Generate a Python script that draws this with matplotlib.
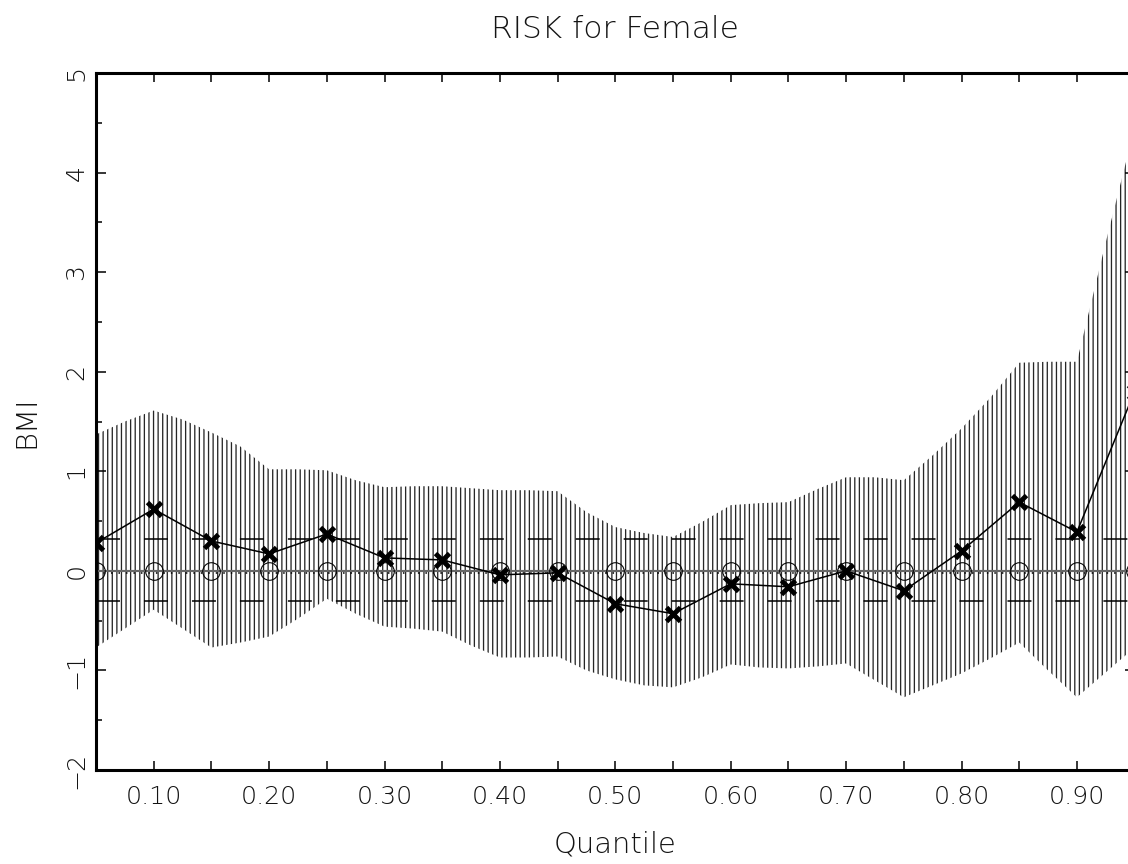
import numpy as np
import matplotlib
matplotlib.use("Agg")
import matplotlib.pyplot as plt

# Quantile levels of the regression estimates
quantiles = [0.05, 0.10, 0.15, 0.20, 0.25, 0.30, 0.35, 0.40, 0.45, 0.50,
             0.55, 0.60, 0.65, 0.70, 0.75, 0.80, 0.85, 0.90, 0.95]
# Quantile regression coefficient of RISK on BMI
estimate = [0.28, 0.62, 0.30, 0.17, 0.37, 0.13, 0.11, -0.04, -0.02, -0.33,
            -0.43, -0.13, -0.16, 0.00, -0.20, 0.20, 0.69, 0.39, 1.80]
# OLS reference markers at each quantile
ols_marker = [0.0] * len(quantiles)

# Confidence band, evaluated on a finer quantile grid
band_q = [0.050, 0.075, 0.100, 0.125, 0.150, 0.175, 0.200, 0.225, 0.250,
          0.275, 0.300, 0.325, 0.350, 0.375, 0.400, 0.425, 0.450, 0.475,
          0.500, 0.525, 0.550, 0.575, 0.600, 0.625, 0.650, 0.675, 0.700,
          0.725, 0.750, 0.775, 0.800, 0.825, 0.850, 0.875, 0.900, 0.925,
          0.950]
band_upper = [1.37, 1.50, 1.61, 1.52, 1.39, 1.25, 1.02, 1.02, 1.01,
              0.91, 0.84, 0.85, 0.85, 0.83, 0.81, 0.81, 0.80, 0.59,
              0.44, 0.38, 0.34, 0.49, 0.66, 0.68, 0.69, 0.82, 0.94,
              0.94, 0.91, 1.16, 1.43, 1.74, 2.09, 2.10, 2.10, 3.30,
              4.45]
band_lower = [-0.77, -0.58, -0.39, -0.58, -0.77, -0.72, -0.66, -0.48, -0.28,
              -0.43, -0.56, -0.58, -0.61, -0.75, -0.87, -0.87, -0.86, -1.00,
              -1.09, -1.15, -1.17, -1.07, -0.94, -0.97, -0.98, -0.96, -0.93,
              -1.10, -1.27, -1.15, -1.03, -0.88, -0.72, -1.00, -1.27, -1.02,
              -0.77]

# Reference lines: zero, OLS estimate and its confidence limits
zero_level = 0.0
ols_level = -0.02
ols_upper = 0.315
ols_lower = -0.30

xtick_vals = [0.10, 0.20, 0.30, 0.40, 0.50, 0.60, 0.70, 0.80, 0.90]
xtick_labels = ["0.10", "0.20", "0.30", "0.40", "0.50", "0.60", "0.70", "0.80", "0.90"]
xminor_vals = [0.05, 0.15, 0.25, 0.35, 0.45, 0.55, 0.65, 0.75, 0.85, 0.95]
ytick_vals = [-2, -1, 0, 1, 2, 3, 4, 5]
yminor_vals = [-1.5, -0.5, 0.5, 1.5, 2.5, 3.5, 4.5]

DPI = 110
plt.rcParams["font.family"] = ["DejaVu Sans"]
plt.rcParams["font.weight"] = "light"
plt.rcParams["axes.titleweight"] = "light"
plt.rcParams["axes.labelweight"] = "light"
plt.rcParams["hatch.linewidth"] = 0.85
text_color = "#141414"

fig = plt.figure(figsize=(1128 / DPI, 864 / DPI), dpi=DPI)
ax = fig.add_axes([96 / 1128, 1 - 770 / 864, (1134.6 - 96) / 1128, (770 - 73) / 864])

# Confidence band drawn as a vertical line pattern
ax.fill_between(band_q, band_lower, band_upper, facecolor="none",
                edgecolor="#262626", hatch="||||", linewidth=0, zorder=1)

ax.axhline(zero_level, color="#666666", lw=1.4, zorder=2)
ax.axhline(ols_level, color="black", lw=1.0, ls=(0, (1, 3.9)), zorder=2)
for lvl in (ols_upper, ols_lower):
    ax.axhline(lvl, color="black", lw=1.0, ls=(0, (15.7, 15.7)), zorder=2)

ax.plot(quantiles, ols_marker, ls="none", marker="o", ms=11.5, mfc="none",
        mec="black", mew=0.7, zorder=3)
ax.plot(quantiles, estimate, color="black", lw=1.0, marker="x", ms=9.5,
        mew=3.2, zorder=4)

ax.set_xlim(0.05, 0.95)
ax.set_ylim(-2, 5)

ax.set_xticks(xtick_vals)
ax.set_xticklabels(xtick_labels)
ax.set_xticks(xminor_vals, minor=True)
ax.set_yticks(ytick_vals)
ax.set_yticks(yminor_vals, minor=True)

ax.tick_params(axis="x", which="both", direction="in", length=5.9, width=1.0,
               top=True, bottom=True, labelsize=16.5, labelcolor=text_color, pad=10)
ax.tick_params(axis="y", which="major", direction="in", length=6.5, width=1.0,
               left=True, right=True, labelsize=16.5, labelcolor=text_color, pad=5)
ax.tick_params(axis="y", which="minor", direction="in", length=4.0, width=1.0,
               left=True, right=True)
for lbl in ax.get_yticklabels():
    lbl.set_rotation(90)
    lbl.set_va("center")

for side in ("left", "bottom", "top", "right"):
    ax.spines[side].set_linewidth(2.0)

ax.set_xlabel("Quantile", fontsize=19, color=text_color, labelpad=14)
ax.set_ylabel("BMI", fontsize=19, color=text_color, labelpad=16)
ax.set_title("RISK for Female", fontsize=20.5, color=text_color, pad=23)

fig.savefig("out.png", dpi=DPI)
